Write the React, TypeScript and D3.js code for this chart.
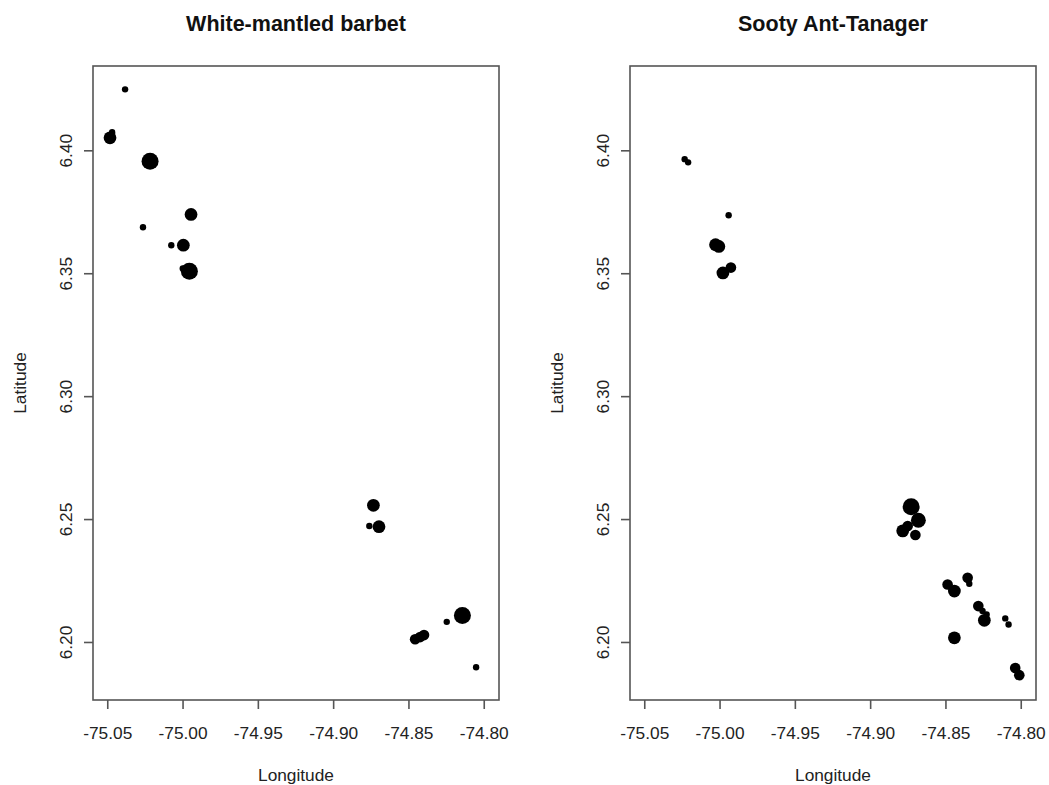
import * as d3 from "d3";
import React from "react";

// shared axis limits (both panels use the same extent)
const lonLimits = [-75.0598, -74.7902];
const latLimits = [6.1766, 6.4345];
const lonTicks = [-75.05, -75.0, -74.95, -74.9, -74.85, -74.8];
const latTicks = [6.2, 6.25, 6.3, 6.35, 6.4];

// White-mantled barbet records
const barbetLon = [-75.0385, -75.0485, -75.0471, -75.0219, -74.9947, -75.0266, -75.0078, -74.9998, -74.9958, -75.0002,
  -74.8736, -74.8763, -74.8699, -74.8459, -74.8426, -74.84, -74.8249, -74.8145, -74.8054];
const barbetLat = [6.425, 6.4053, 6.4076, 6.3958, 6.3741, 6.3689, 6.3616, 6.3616, 6.351, 6.3521,
  6.2558, 6.2474, 6.2471, 6.2013, 6.2022, 6.203, 6.2084, 6.211, 6.1899];
const barbetCount = [1, 4, 1, 6, 4, 1, 1, 4, 6, 1, 4, 1, 4, 3, 3, 3, 1, 6, 1];

// Sooty Ant-Tanager records
const tanagerLon = [-75.0235, -75.0212, -74.9943, -75.003, -75.0008, -74.9981, -74.9928,
  -74.8731, -74.8683, -74.8787, -74.8754, -74.8703,
  -74.8489, -74.8444, -74.8356, -74.8345, -74.8285, -74.8257, -74.8245, -74.823,
  -74.8106, -74.8084, -74.8444, -74.804, -74.8013];
const tanagerLat = [6.3966, 6.3953, 6.3738, 6.3618, 6.3611, 6.3503, 6.3525,
  6.2552, 6.2497, 6.2454, 6.2474, 6.2437,
  6.2236, 6.2209, 6.2263, 6.2239, 6.2148, 6.2128, 6.209, 6.2114,
  6.2098, 6.2073, 6.2019, 6.1896, 6.1867];
const tanagerCount = [1, 1, 1, 4, 4, 4, 3,
  6, 5, 4, 3, 3,
  3, 4, 3, 1, 3, 1, 4, 1,
  1, 1, 4, 3, 3];

const font = "'Liberation Sans', Arial, sans-serif";
const top = 66;
const bottom = 700;
const boxWidth = 406;

const rScale = d3.scaleLinear().domain([1, 6]).range([3.2, 8.5]);

function Panel({ left, title, lon, lat, count }) {
  const x = d3.scaleLinear().domain(lonLimits).range([left, left + boxWidth]);
  const y = d3.scaleLinear().domain(latLimits).range([bottom, top]);
  const cx = left + boxWidth / 2;
  const pts = lon.map((d, i) => ({ lon: d, lat: lat[i], n: count[i] }));
  return (
    <g>
      <text x={cx} y={31} textAnchor="middle" fontWeight="bold" fontSize={21.5} fill="#111" fontFamily={font}>
        {title}
      </text>
      <rect x={left} y={top} width={boxWidth} height={bottom - top} fill="none" stroke="#555" strokeWidth={1.6} />
      {pts.map((p, i) => (
        <circle key={i} cx={x(p.lon)} cy={y(p.lat)} r={rScale(p.n)} fill="#000" />
      ))}
      {lonTicks.map((t) => (
        <g key={t}>
          <line x1={x(t)} x2={x(t)} y1={bottom} y2={bottom + 9} stroke="#555" strokeWidth={1.6} />
          <text x={x(t)} y={739} textAnchor="middle" fontSize={17.3} fill="#222" fontFamily={font}>
            {t.toFixed(2)}
          </text>
        </g>
      ))}
      {latTicks.map((t) => (
        <g key={t}>
          <line x1={left} x2={left - 9} y1={y(t)} y2={y(t)} stroke="#555" strokeWidth={1.6} />
          <text transform={`translate(${left - 21},${y(t)}) rotate(-90)`} textAnchor="middle" fontSize={17.3} fill="#222" fontFamily={font}>
            {t.toFixed(2)}
          </text>
        </g>
      ))}
      <text x={cx} y={781} textAnchor="middle" fontSize={17.3} fill="#222" fontFamily={font}>
        Longitude
      </text>
      <text transform={`translate(${left - 67},${(top + bottom) / 2}) rotate(-90)`} textAnchor="middle" fontSize={17.3} fill="#222" fontFamily={font}>
        Latitude
      </text>
    </g>
  );
}

export default function App() {
  return (
    <svg width={1049} height={785} style={{ position: "absolute", left: 0, top: 0, background: "#fff" }}>
      <rect width={1049} height={785} fill="#fff" />
      <Panel left={93} title="White-mantled barbet" lon={barbetLon} lat={barbetLat} count={barbetCount} />
      <Panel left={630} title="Sooty Ant-Tanager" lon={tanagerLon} lat={tanagerLat} count={tanagerCount} />
    </svg>
  );
}
